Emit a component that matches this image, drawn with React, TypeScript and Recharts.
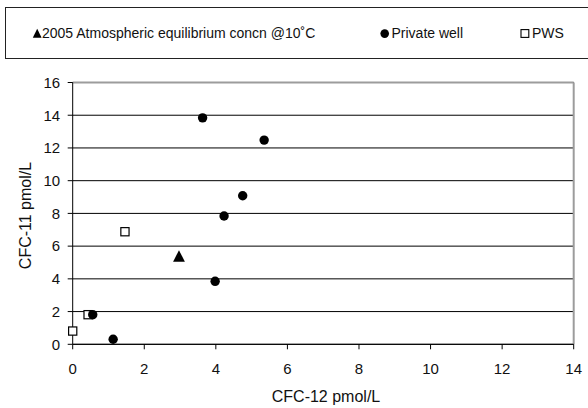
import React from 'react';
import { ScatterChart, Scatter, XAxis, YAxis, CartesianGrid, ReferenceLine, Label } from 'recharts';

type Pt = { cfc12: number; cfc11: number };

const atmospheric: Pt[] = [{ cfc12: 2.97, cfc11: 5.4 }];

const privateWell: Pt[] = [
  { cfc12: 3.63, cfc11: 13.84 },
  { cfc12: 5.35, cfc11: 12.48 },
  { cfc12: 4.75, cfc11: 9.08 },
  { cfc12: 4.23, cfc11: 7.84 },
  { cfc12: 3.98, cfc11: 3.85 },
  { cfc12: 0.56, cfc11: 1.81 },
  { cfc12: 1.13, cfc11: 0.31 },
];

const pws: Pt[] = [
  { cfc12: 1.46, cfc11: 6.88 },
  { cfc12: 0.43, cfc11: 1.81 },
  { cfc12: 0, cfc11: 0.81 },
];

const xTicks = [0, 2, 4, 6, 8, 10, 12, 14];
const yTicks = [0, 2, 4, 6, 8, 10, 12, 14, 16];

const legendLabels = ['2005 Atmospheric equilibrium concn @10˚C', 'Private well', 'PWS'];
const xTitle = 'CFC-12 pmol/L';
const yTitle = 'CFC-11 pmol/L';

const FONT = '"Liberation Sans", Arial, Helvetica, sans-serif';
const INK = '#111';

const TriangleMark = (p: any) => (
  <path
    d={`M${p.cx},${p.cy - 5.8} L${p.cx + 5.9},${p.cy + 5.8} L${p.cx - 5.9},${p.cy + 5.8} Z`}
    fill="#000"
  />
);

const CircleMark = (p: any) => <circle cx={p.cx} cy={p.cy} r={4.7} fill="#000" />;

const SquareMark = (p: any) => (
  <rect x={p.cx - 4.1} y={p.cy - 4.1} width={8.2} height={8.2} fill="#fff" stroke="#000" strokeWidth={1.2} />
);

function LegendBox() {
  return (
    <svg
      width={588}
      height={70}
      style={{ position: 'absolute', left: 0, top: 0 }}
      fontFamily={FONT}
    >
      <rect x={5.5} y={7.5} width={600} height={51} fill="#fff" stroke="#222" strokeWidth={1} />
      <path d="M37.2,28.8 L41.6,37.8 L32.8,37.8 Z" fill="#000" />
      <text x={42} y={38.4} fontSize={14} fill={INK}>{legendLabels[0]}</text>
      <circle cx={384.7} cy={33.6} r={4.3} fill="#000" />
      <text x={391.5} y={38.4} fontSize={14} fill={INK}>{legendLabels[1]}</text>
      <rect x={521} y={29.6} width={7.8} height={7.8} fill="#fff" stroke="#000" strokeWidth={1.1} />
      <text x={532} y={38.4} fontSize={14} fill={INK}>{legendLabels[2]}</text>
    </svg>
  );
}

export default function App() {
  return (
    <div style={{ position: 'absolute', left: 0, top: 0, width: 588, height: 408, background: '#fff' }}>
      <LegendBox />
      <div style={{ position: 'absolute', left: 0, top: 0 }}>
        <ScatterChart
          width={588}
          height={408}
          margin={{ top: 82.5, right: 14.3, bottom: 23.7, left: 12.7 }}
        >
          <CartesianGrid vertical={false} stroke="#000" strokeWidth={1} />
          <ReferenceLine y={16} stroke="#9c9c9c" strokeWidth={2} />
          <ReferenceLine x={14} stroke="#9c9c9c" strokeWidth={2} />
          <XAxis
            type="number"
            dataKey="cfc12"
            domain={[0, 14]}
            ticks={xTicks}
            interval={0}
            height={40}
            stroke="#000"
            tickSize={5}
            tickMargin={14.5}
            axisLine={{ stroke: '#000' }}
            tickLine={{ stroke: '#000' }}
            tick={{ fill: INK, fontSize: 15, fontFamily: FONT }}
          >
            <Label
              content={() => (
                <text x={326} y={401.8} textAnchor="middle" fontSize={16} fontFamily={FONT} fill={INK}>
                  {xTitle}
                </text>
              )}
            />
          </XAxis>
          <YAxis
            type="number"
            dataKey="cfc11"
            domain={[0, 16]}
            ticks={yTicks}
            interval={0}
            width={60}
            stroke="#000"
            tickSize={5}
            tickMargin={7.5}
            axisLine={{ stroke: '#000' }}
            tickLine={{ stroke: '#000' }}
            tick={{ fill: INK, fontSize: 15, fontFamily: FONT }}
          >
            <Label
              content={() => (
                <text
                  x={30.5}
                  y={215.5}
                  transform="rotate(-90 30.5 215.5)"
                  textAnchor="middle"
                  fontSize={16}
                  fontFamily={FONT}
                  fill={INK}
                >
                  {yTitle}
                </text>
              )}
            />
          </YAxis>
          <Scatter name={legendLabels[0]} data={atmospheric} shape={TriangleMark} isAnimationActive={false} />
          <Scatter name={legendLabels[2]} data={pws} shape={SquareMark} isAnimationActive={false} />
          <Scatter name={legendLabels[1]} data={privateWell} shape={CircleMark} isAnimationActive={false} />
        </ScatterChart>
      </div>
    </div>
  );
}
